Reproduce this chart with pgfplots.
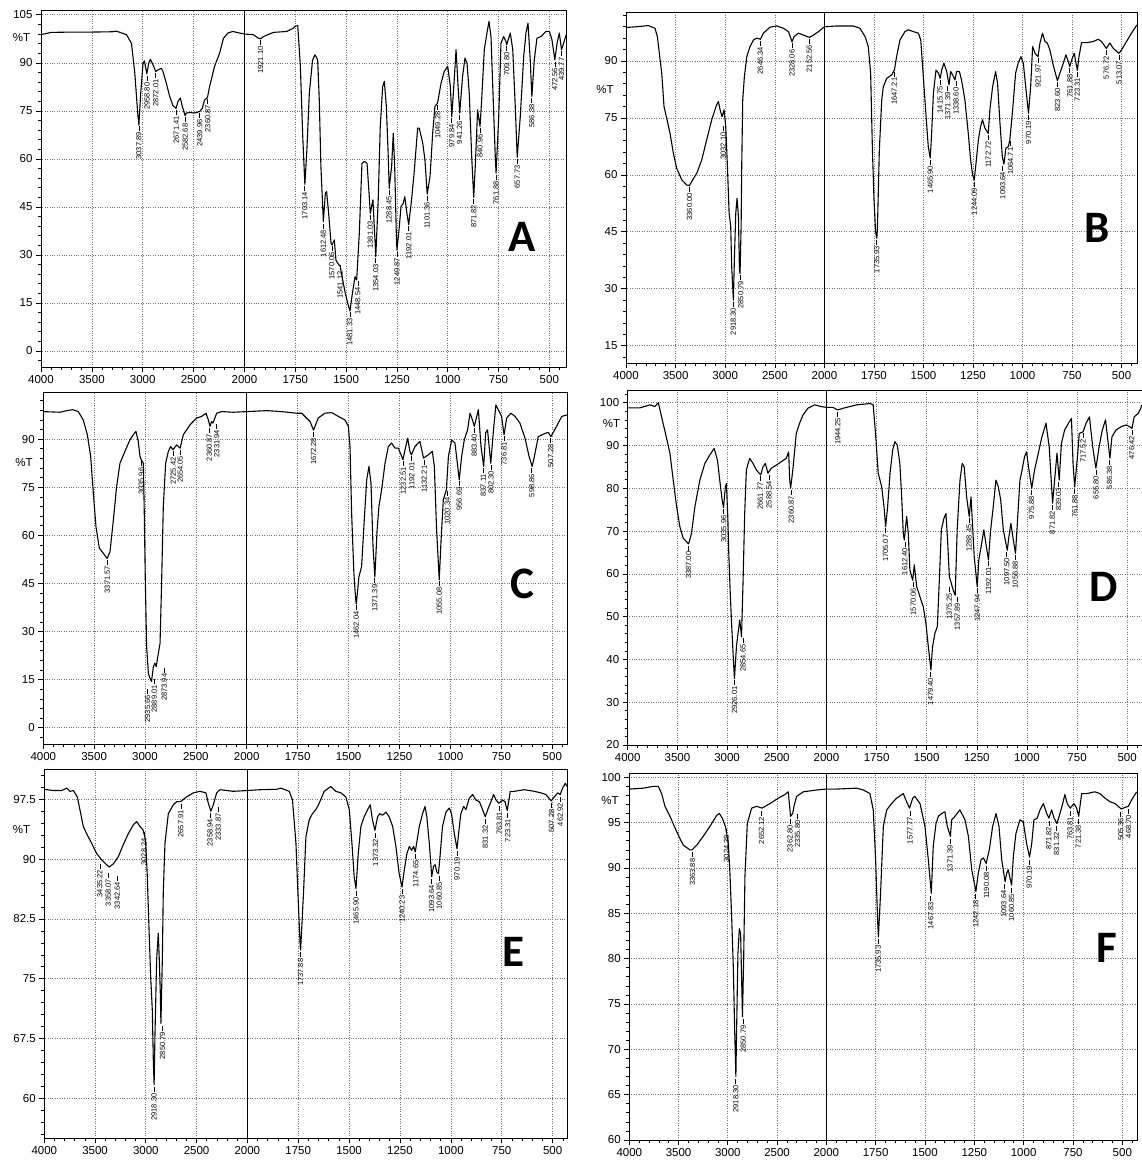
\documentclass[border=0pt]{standalone}
\usepackage{pgfplots}
\usepackage{pgfplotstable}
\pgfplotsset{compat=1.18}
\usepackage{fontspec}
\setmainfont{Liberation Sans}
\newfontfamily\letterfont{Carlito}

\pgfplotsset{
  ftir/.style={
    scale only axis, anchor=south west,
    axis line style={line width=0.8pt, black},
    tick align=outside, tick pos=left,
    major tick length=5pt, minor tick length=3pt,
    every tick/.append style={black, line width=0.6pt},
    xmajorgrids, ymajorgrids,
    grid style={dotted, black!55, line width=0.6pt},
    x dir=reverse,
    tick label style={font=\fontsize{11.5}{11.5}\selectfont},
    /pgf/number format/assume math mode=true,
    /pgf/number format/1000 sep={},
  },
  leftpart/.style={ftir, xmin=2000, xmax=4000,
    xtick={2000,2500,3000,3500,4000}, minor xtick={2100,2200,...,3900}},
  rightpart/.style={ftir, xmax=2000,
    xtick={500,750,1000,1250,1500,1750}, minor xtick={450,500,...,1950},
    yticklabels={}, major y tick style={draw=none}, minor y tick style={draw=none}, minor ytick={}},
  spec/.style={black, line width=1.1pt, no markers, line join=round},
  peaks/.style={only marks, mark=none, point meta=explicit symbolic,
    nodes near coords={\pgfplotspointmeta\,\rule[2.45pt]{5pt}{0.5pt}},
    nodes near coords style={rotate=90, anchor=east, inner sep=0.6pt, font=\fontsize{7.5}{7.5}\selectfont}},
  panelA/.style={height=357pt, ymin=-5, ymax=106.5, ytick={0,15,...,105}},
  panelB/.style={height=351pt, ymin=10.36, ymax=102.8, ytick={15,30,...,90}},
  panelC/.style={height=351.3pt, ymin=-5.1, ymax=104.5, ytick={0,15,...,90}},
  panelD/.style={height=355pt, ymin=20, ymax=102.97, ytick={20,30,...,100}},
  panelE/.style={height=369pt, ymin=55, ymax=101.26, ytick={60,67.5,75,82.5,90,97.5}},
  panelF/.style={height=366.7pt, ymin=60, ymax=100.44, ytick={60,65,...,100}},
}

% ---------------- Panel A ----------------
\pgfplotstableread{
x y
4000 98.8
3900 99.5
3700 99.6
3500 99.6
3300 99.7
3260 99.9
3160 98.8
3111 96.1
3078 86.8
3052 75.3
3038 70.5
3020 80.5
2997 89.9
2984 90.6
2960 86.6
2941 89.9
2925 91.1
2899 89.4
2873 87.3
2850 87.8
2817 88.3
2801 87.3
2768 83.6
2735 79.5
2703 76.6
2672 75.8
2654 77.9
2631 79.0
2611 76.4
2583 73.5
2572 74.3
2539 74.5
2490 74.3
2440 74.8
2415 75.8
2392 78.4
2369 79.0
2361 79.6
2343 82.6
2294 88.9
2245 93.0
2206 97.7
2163 99.3
2114 99.8
2049 99.3
2000 99.0
1957 98.8
1932 97.7
1921 97.5
1907 98.2
1858 99.5
1792 99.8
1760 100.8
1750 101.5
1738 101.6
1725 88.9
1714 68.0
1703 52.0
1693 62.8
1681 80.5
1665 90.9
1653 92.5
1640 90.9
1632 78.4
1624 57.6
1612 40.4
1602 49.3
1596 49.8
1586 43.0
1574 33.6
1570 33.1
1566 33.5
1558 34.7
1550 28.4
1541 27.4
1529 26.4
1517 22.2
1504 18.0
1492 14.9
1481 12.5
1469 18.0
1456 23.2
1448 22.2
1435 36.8
1422 58.6
1410 59.2
1397 58.6
1386 48.2
1381 43.0
1368 47.2
1358 34.7
1354 29.5
1342 47.2
1332 70.1
1320 82.6
1312 84.2
1302 76.4
1292 59.7
1288 50.8
1276 57.6
1268 68.0
1261 57.6
1253 36.8
1250 31.5
1238 38.9
1230 45.1
1219 46.1
1211 48.2
1201 43.0
1192 39.5
1178 47.2
1164 56.6
1148 69.6
1140 69.6
1123 64.9
1112 59.7
1101 49.0
1087 54.5
1074 68.0
1063 76.4
1050 77.4
1033 83.6
1017 87.3
1000 88.9
987 82.6
980 73.2
967 85.7
959 94.1
949 82.6
941 74.3
927 85.7
915 91.5
905 89.9
894 80.5
882 60.7
872 48.0
863 59.7
853 75.3
841 70.1
833 78.4
820 94.1
807 99.3
797 102.9
787 98.2
776 78.4
766 60.7
762 55.5
749 73.2
738 96.1
725 98.2
713 96.7
710 95.6
692 99.3
680 94.1
669 78.4
658 60.5
643 73.2
626 92.0
615 99.3
605 102.4
594 90.9
586 79.5
574 90.9
561 97.7
541 98.2
517 99.8
500 99.8
487 97.2
473 90.9
462 96.1
451 99.3
440 94.1
430 96.1
414 99.3
}\dataA
\pgfplotstableread{
x y label
3037.89 70.5 3037.89
2958.80 86.0 2958.80
2872.01 87.0 2872.01
2671.41 75.5 2671.41
2582.68 73.2 2582.68
2439.96 74.5 2439.96
2360.87 79.0 2360.87
1921.10 97.3 1921.10
1703.14 51.8 1703.14
1612.48 40.0 1612.48
1570.06 33.0 1570.06
1530 27.0 1541.12
1481.33 12.3 1481.33
1442 22.0 1448.54
1381.03 42.7 1381.03
1354.03 29.2 1354.03
1288.45 50.5 1288.45
1249.87 31.2 1249.87
1192.01 39.2 1192.01
1101.36 48.7 1101.36
1049.28 77.0 1049.28
979.84 73.0 979.84
941.26 74.0 941.26
871.82 47.8 871.82
840.96 69.8 840.96
761.88 55.2 761.88
709.80 95.4 709.80
657.73 60.2 657.73
586.38 79.2 586.38
472.56 90.6 472.56
439.77 93.8 439.77
}\pkA

% ---------------- Panel B ----------------
\pgfplotstableread{
x y
4000 98.8
3892 99.0
3775 99.3
3708 98.6
3684 96.4
3664 92.0
3640 86.8
3617 78.0
3590 74.9
3556 70.9
3523 65.7
3489 61.7
3439 58.7
3388 57.3
3360 57.2
3328 58.7
3287 60.4
3237 63.9
3187 69.2
3136 74.5
3093 78.0
3069 79.3
3052 77.1
3032 75.3
3012 77.1
2995 72.7
2978 62.2
2961 49.9
2945 46.4
2935 35.8
2918 27.0
2908 37.6
2894 49.9
2881 53.8
2867 49.0
2857 35.0
2851 34.0
2840 46.4
2834 62.2
2824 79.7
2807 85.9
2783 91.1
2750 93.8
2716 95.5
2683 96.0
2646 95.7
2615 97.3
2548 98.9
2481 99.2
2414 98.6
2363 97.7
2340 96.0
2328 95.0
2306 96.4
2262 97.3
2212 96.8
2153 96.2
2111 96.8
2061 97.7
2000 99.0
1938 99.2
1855 99.2
1821 98.6
1795 96.4
1779 93.8
1767 86.8
1758 66.6
1750 53.4
1742 45.0
1736 43.3
1733 45.5
1723 66.6
1711 79.7
1703 83.2
1686 85.4
1661 86.3
1647 87.6
1636 91.1
1619 95.5
1594 97.7
1577 98.2
1551 97.7
1526 97.3
1514 95.5
1501 85.9
1487 75.3
1476 67.4
1466 64.4
1459 70.9
1450 81.5
1437 87.6
1425 86.8
1416 85.4
1408 87.6
1397 89.4
1383 87.2
1371 83.7
1363 87.2
1353 86.3
1341 85.0
1333 87.2
1319 87.2
1308 85.0
1291 79.7
1274 70.9
1262 63.9
1252 60.0
1244 58.6
1235 63.0
1223 69.2
1212 72.7
1202 74.5
1190 72.3
1173 70.9
1165 77.1
1151 83.2
1136 87.2
1126 84.1
1114 73.6
1102 64.8
1094 62.8
1084 67.0
1072 67.4
1064 69.2
1050 77.1
1035 86.8
1022 89.4
1008 91.1
996 89.4
984 83.2
970 76.2
959 83.2
949 93.8
937 92.0
922 91.1
912 94.7
899 97.3
887 95.1
875 94.7
862 92.9
845 88.9
824 84.8
811 86.8
794 89.4
781 91.6
769 89.8
762 88.5
749 90.7
739 92.0
723 87.5
715 91.1
702 94.8
677 94.8
643 95.1
618 95.7
601 95.1
577 93.3
559 94.7
542 93.3
513 92.0
500 92.9
475 95.1
450 97.3
422 99.5
}\dataB
\pgfplotstableread{
x y label
3360.00 57.0 3360.00
3020 73.0 3032.10
2918.30 26.8 2918.30
2843 33.8 2850.79
2646.34 95.5 2646.34
2328.06 94.8 2328.06
2152.56 96.0 2152.56
1735.93 43.1 1735.93
1647.21 87.4 1647.21
1465.90 64.2 1465.90
1417 85.2 1415.75
1378 83.5 1371.39
1336 84.8 1338.60
1244.09 58.4 1244.09
1172.72 70.7 1172.72
1100 62.6 1093.64
1060 69.0 1064.71
970.19 76.0 970.19
921.97 90.9 921.97
823.60 84.6 823.60
761.88 88.3 761.88
723.31 87.3 723.31
576.72 93.1 576.72
513.07 91.8 513.07
}\pkB

% ---------------- Panel C ----------------
\pgfplotstableread{
x y
4000 98.6
3836 98.4
3770 98.9
3711 99.2
3656 98.6
3607 96.0
3567 91.4
3534 84.6
3508 73.1
3482 62.7
3449 56.0
3410 54.4
3372 52.8
3344 54.9
3311 64.8
3279 75.2
3246 82.5
3197 86.2
3148 89.8
3115 91.4
3089 92.4
3066 89.3
3049 84.6
3036 83.5
3016 82.5
3007 66.9
2997 46.1
2984 25.3
2967 17.0
2957 15.9
2936 14.4
2918 19.0
2902 20.1
2889 19.0
2874 22.2
2852 26.3
2836 46.1
2820 69.0
2797 82.5
2770 86.2
2748 87.7
2725 86.7
2689 88.2
2654 87.2
2623 91.4
2557 94.5
2492 96.6
2443 97.1
2400 98.1
2377 96.0
2361 94.0
2345 95.5
2332 95.0
2295 98.1
2246 98.6
2131 98.4
2000 98.6
1902 98.9
1829 98.6
1755 98.1
1730 98.1
1689 95.5
1672 92.8
1649 96.6
1616 98.1
1583 98.3
1550 97.1
1518 96.0
1501 94.0
1493 87.7
1485 66.9
1474 48.2
1465 39.9
1462 38.6
1449 47.1
1436 50.3
1423 64.8
1411 77.3
1400 81.5
1390 76.3
1380 56.5
1371 47.0
1360 61.7
1351 69.0
1338 74.2
1321 82.5
1305 87.7
1289 88.8
1272 87.2
1256 87.2
1239 84.6
1233 83.6
1223 86.7
1210 90.3
1199 86.2
1192 85.1
1174 87.7
1150 89.3
1132 84.1
1109 85.1
1089 86.2
1079 81.5
1068 61.7
1055 46.1
1046 58.6
1035 71.1
1020 74.2
1010 84.6
994 89.8
978 88.8
966 82.5
957 77.3
945 84.6
932 89.8
916 92.9
904 98.1
892 96.0
883 94.0
863 99.2
850 87.7
837 81.5
827 92.0
818 92.9
802 82.5
790 92.0
777 100.7
765 99.2
749 97.1
737 91.4
724 96.6
703 98.1
683 97.1
659 95.0
634 90.3
614 84.6
599 81.5
588 84.6
569 90.8
536 91.8
520 92.1
507 90.8
479 94.0
454 97.1
425 97.6
}\dataC
\pgfplotstableread{
x y label
3371.57 52.6 3371.57
3036 83.3 3035.96
2974 12.3 2935.66
2908 15.4 2889.01
2810 19.0 2873.94
2722 86.5 2725.42
2652 87.0 2654.05
2367 93.8 2360.87
2295 95.0 2331.94
1672.28 92.6 1672.28
1462.04 38.4 1462.04
1371.39 46.8 1371.39
1231 83.4 1232.51
1190 84.9 1192.01
1128 83.9 1132.21
1055.08 45.9 1055.08
1015 74.0 1020.34
956.69 77.1 956.69
883.40 93.8 883.40
839 81.3 837.11
801 82.3 802.30
736.81 91.2 736.81
601 81.3 598.86
507.28 90.6 507.28
}\pkC

% ---------------- Panel D ----------------
\pgfplotstableread{
x y
4000 98.8
3876 98.8
3776 99.5
3726 99.1
3692 100.0
3659 96.7
3609 91.7
3575 88.2
3542 81.9
3508 75.7
3475 71.0
3441 68.3
3408 67.5
3387 67.0
3358 69.5
3324 75.7
3274 81.9
3224 85.8
3174 87.8
3130 89.3
3097 86.6
3074 81.9
3050 77.3
3036 75.5
3017 80.4
3007 81.1
2993 73.4
2983 64.8
2967 54.7
2950 46.1
2933 38.3
2926 35.5
2906 43.0
2890 46.1
2873 49.2
2855 45.3
2839 58.6
2823 74.1
2806 84.3
2773 87.0
2739 85.8
2706 84.3
2662 83.1
2639 85.0
2615 85.8
2589 83.5
2555 84.7
2505 85.4
2455 86.2
2405 87.0
2381 88.5
2370 82.0
2361 80.0
2340 84.0
2304 92.8
2271 95.2
2237 97.1
2187 98.7
2120 99.5
2054 99.1
2000 98.9
1968 98.9
1944 98.3
1917 98.7
1849 99.5
1783 99.8
1767 99.5
1753 91.3
1742 83.5
1725 80.4
1713 75.7
1705 71.0
1695 75.7
1683 83.5
1670 88.9
1659 90.9
1647 90.1
1634 85.8
1625 78.0
1617 69.5
1612 67.9
1600 73.4
1592 69.5
1584 60.9
1570 58.5
1562 62.1
1550 57.0
1534 54.7
1517 52.3
1504 48.4
1492 43.0
1479 37.5
1471 43.0
1459 46.1
1447 47.7
1437 58.6
1427 70.3
1414 73.0
1404 74.1
1396 67.9
1387 59.3
1375 57.4
1368 56.2
1358 55.0
1348 70.3
1334 81.9
1323 85.8
1313 85.0
1301 78.0
1288 73.4
1279 78.0
1271 71.0
1263 64.0
1248 57.0
1240 63.3
1226 67.1
1215 70.3
1205 67.1
1192 63.3
1181 70.3
1168 75.7
1155 81.9
1143 80.4
1131 77.3
1118 70.3
1098 65.5
1090 68.7
1080 71.8
1068 67.9
1057 64.8
1045 74.1
1035 81.9
1024 84.3
1012 87.4
1002 88.5
990 84.3
976 80.0
962 84.3
947 87.4
927 91.7
905 95.2
889 89.7
872 76.5
862 81.9
850 88.2
839 81.9
828 90.5
812 93.6
793 95.2
778 96.3
770 85.8
762 80.3
748 87.4
739 92.8
720 93.2
705 95.2
688 96.7
672 89.7
656 84.7
640 89.7
624 93.6
608 96.0
586 87.0
576 92.0
556 93.6
530 94.4
505 94.8
488 94.4
476 94.0
465 96.7
445 97.5
432 98.7
426 99.5
}\dataD
\pgfplotstableread{
x y label
3387.00 66.8 3387.00
3033 75.3 3035.96
2926.01 35.3 2926.01
2840 45.1 2854.65
2666 83.0 2661.77
2579 83.3 2588.54
2355 79.8 2360.87
1944.25 98.1 1944.25
1705.07 70.8 1705.07
1609 67.7 1612.40
1567 58.3 1570.06
1481 37.3 1479.40
1387 57.2 1375.25
1348 54.8 1357.89
1289 73.2 1288.45
1247.94 56.8 1247.94
1192.01 63.1 1192.01
1101 65.3 1097.50
1058 64.6 1056.88
977 79.8 975.88
874 76.3 871.82
842 81.7 839.03
761.88 80.1 761.88
720 93.0 717.52
655.80 84.5 655.80
588 86.8 586.38
476.42 93.8 476.42
}\pkD

% ---------------- Panel E ----------------
\pgfplotstableread{
x y
4000 98.75
3911 98.6
3829 98.6
3780 98.9
3747 98.5
3714 98.6
3675 97.8
3649 96.2
3616 94.1
3576 93.0
3534 92.0
3484 90.7
3435 89.9
3386 89.3
3358 89.0
3342 89.2
3320 89.4
3271 90.3
3222 91.8
3172 93.2
3123 94.3
3090 94.7
3058 94.1
3028 93.7
3002 92.4
2985 87.8
2969 81.5
2952 75.3
2936 71.1
2926 64.8
2918 61.7
2910 67.7
2893 77.4
2877 80.7
2867 77.4
2857 73.2
2851 69.4
2837 77.4
2828 85.7
2811 92.0
2778 95.7
2729 96.8
2696 97.2
2658 97.2
2598 97.8
2532 98.3
2466 98.5
2407 98.3
2384 97.0
2359 96.0
2335 96.8
2302 98.3
2269 98.7
2138 98.5
2000 98.6
1938 98.7
1856 98.75
1835 98.9
1794 98.5
1778 97.4
1761 92.0
1750 84.9
1740 79.0
1738 78.6
1724 85.7
1712 92.8
1696 94.9
1680 95.7
1663 96.2
1647 97.0
1622 98.5
1590 99.1
1565 98.5
1540 98.3
1516 97.8
1499 96.2
1486 92.0
1475 87.8
1466 86.3
1455 90.7
1442 94.1
1426 95.3
1409 96.2
1396 96.8
1385 94.9
1373 93.6
1360 95.3
1349 95.7
1336 95.5
1319 95.9
1303 95.3
1286 94.1
1270 91.6
1254 88.2
1240 86.5
1229 88.6
1216 90.7
1204 91.6
1193 91.1
1183 91.6
1175 90.9
1155 94.1
1139 95.7
1127 96.6
1118 95.3
1106 92.0
1094 87.8
1085 89.1
1077 89.3
1069 88.4
1061 88.2
1052 90.7
1041 94.1
1024 95.9
1008 96.4
997 95.7
983 93.2
970 91.3
962 93.2
951 95.7
937 96.6
926 96.2
910 97.6
893 98.1
877 97.4
860 97.2
844 96.2
831 95.3
816 96.4
803 97.2
790 98.1
778 97.4
764 97.0
746 97.4
734 97.2
723 96.1
708 98.5
688 98.5
639 98.7
590 98.5
557 98.3
533 98.1
507 97.3
492 97.8
475 98.3
463 98.1
451 98.9
438 99.5
428 99.1
}\dataE
\pgfplotstableread{
x y label
3452 89.5 3435.22
3370 88.4 3358.07
3281 88.0 3342.64
3018 93.5 3028.24
2918.30 61.5 2918.30
2836 69.2 2850.79
2654 97.0 2657.91
2368 95.9 2358.94
2286 96.6 2333.87
1737.88 78.4 1737.88
1465.90 86.1 1465.90
1370 93.4 1373.32
1240.23 86.3 1240.23
1172 90.7 1174.65
1095 87.6 1093.64
1057 88.0 1060.85
970.19 91.1 970.19
831.32 95.1 831.32
762 96.8 763.81
720 95.9 723.31
505 97.1 507.28
462.92 97.9 462.92
}\pkE

% ---------------- Panel F ----------------
\pgfplotstableread{
x y
4000 98.7
3858 98.8
3756 99.0
3706 99.0
3672 98.2
3638 96.8
3587 95.7
3519 94.0
3452 92.5
3384 92.0
3364 92.0
3316 92.5
3249 93.5
3181 94.6
3113 95.8
3086 96.0
3056 95.5
3029 94.7
3024 94.6
2995 92.7
2978 89.4
2961 84.6
2944 79.1
2931 72.5
2918 67.0
2910 72.5
2897 80.6
2883 83.3
2870 82.8
2860 78.0
2851 73.6
2839 79.9
2826 89.0
2802 94.9
2758 96.6
2707 96.8
2652 96.6
2572 97.1
2487 97.7
2420 98.1
2386 98.4
2369 96.4
2363 95.7
2342 96.0
2336 96.3
2328 96.8
2301 97.9
2233 98.4
2098 98.6
2000 98.7
1947 98.7
1846 98.8
1812 98.6
1779 98.2
1762 96.4
1750 90.9
1740 84.3
1736 82.4
1725 87.2
1711 94.6
1694 96.4
1669 97.1
1644 97.7
1610 98.2
1593 97.3
1578 96.6
1562 97.7
1551 97.9
1525 97.1
1500 94.6
1483 90.9
1468 87.2
1458 92.4
1444 94.9
1432 95.7
1416 96.0
1399 96.2
1387 94.6
1371 93.5
1365 95.3
1348 95.7
1323 96.4
1297 95.3
1280 93.5
1263 89.8
1242 87.4
1230 89.4
1216 90.9
1204 91.1
1190 90.5
1174 92.0
1157 94.6
1140 96.0
1125 94.6
1111 90.9
1094 88.5
1086 89.4
1078 89.8
1061 88.1
1052 91.3
1039 93.8
1019 95.3
1002 95.1
985 92.7
970 91.2
959 92.7
948 95.3
931 95.5
917 96.4
900 97.1
883 96.0
872 95.5
858 96.4
846 95.5
831 94.9
816 96.0
802 97.1
791 98.1
779 97.1
764 96.6
745 97.1
731 96.6
721 95.7
706 98.2
681 98.2
639 98.4
613 98.2
588 97.7
562 97.3
537 97.1
505 96.5
495 96.6
469 96.8
453 97.5
427 98.4
}\dataF
\pgfplotstableread{
x y label
3357 91.8 3363.88
3012 94.4 3024.38
2918.30 66.8 2918.30
2843 73.4 2850.79
2657 96.4 2652.12
2369 95.5 2362.80
2291 96.0 2335.80
1735.93 82.2 1735.93
1576 96.4 1577.77
1471 87.0 1467.83
1373 93.3 1371.39
1243 87.2 1242.18
1188 90.3 1190.08
1100 88.3 1093.64
1061 87.9 1060.85
971 91.0 970.19
872 95.3 871.82
833 94.7 831.32
765 96.4 763.81
723 95.5 721.38
508 96.3 505.36
469 96.6 468.70
}\pkF

\newcommand\panel[9]{%
% #1 data, #2 peaks, #3 panel style, #4 left x, #5 bottom y, #6 left width, #7 split x, #8 right width, #9 xmin right
\begin{axis}[leftpart, #3, at={(#4pt,#5pt)}, width=#6pt]
\addplot[spec] table[x=x,y=y] {#1};
\addplot[peaks, restrict x to domain=2000:4000] table[x=x,y=y,meta=label] {#2};
\end{axis}
\begin{axis}[rightpart, #3, at={(#7pt,#5pt)}, width=#8pt, xmin=#9]
\addplot[spec] table[x=x,y=y] {#1};
\addplot[peaks, restrict x to domain=400:1999.9] table[x=x,y=y,meta=label] {#2};
\end{axis}}

\begin{document}
\begin{tikzpicture}
\panel{\dataA}{\pkA}{panelA, minor ytick={-3,0,...,105}}{41}{796}{203.5}{244.5}{321.5}{418}
\panel{\dataB}{\pkB}{panelB, minor ytick={12,15,...,102}}{626}{799.7}{198.5}{824.5}{312.5}{422}
\panel{\dataC}{\pkC}{panelC, minor ytick={-3,0,...,102}}{43.3}{419}{203.4}{246.7}{320.3}{428}
\panel{\dataD}{\pkD}{panelD, minor ytick={20,22,...,102}}{627.7}{418}{198.8}{826.5}{315.5}{426}
\panel{\dataE}{\pkE}{panelE, minor ytick={55.5,57,...,100.5}}{44.3}{24.7}{203}{247.3}{320}{428}
\panel{\dataF}{\pkF}{panelF, minor ytick={60,61,...,100}}{629.3}{23}{197}{826.3}{311}{424}

\begin{scope}[every node/.style={font=\fontsize{11.5}{11.5}\selectfont, inner sep=0pt}]
\node at (21.5pt,1125pt) {\%T};
\node at (605pt,1073pt) {\%T};
\node at (24pt,700pt) {\%T};
\node at (611.5pt,739pt) {\%T};
\node at (21.5pt,333pt) {\%T};
\node at (610pt,362pt) {\%T};
\end{scope}

\begin{scope}[every node/.style={font=\letterfont\bfseries\fontsize{45}{45}\selectfont, inner sep=0pt}]
\node at (522.5pt,926pt) {A};
\node at (1097pt,935pt) {B};
\node at (522pt,579pt) {C};
\node at (1104pt,576pt) {D};
\node at (513pt,211pt) {E};
\node at (1107pt,215pt) {F};
\end{scope}

\pgfresetboundingbox
\path[use as bounding box] (0pt,0pt) rectangle (1142pt,1163pt);
\end{tikzpicture}
\end{document}
